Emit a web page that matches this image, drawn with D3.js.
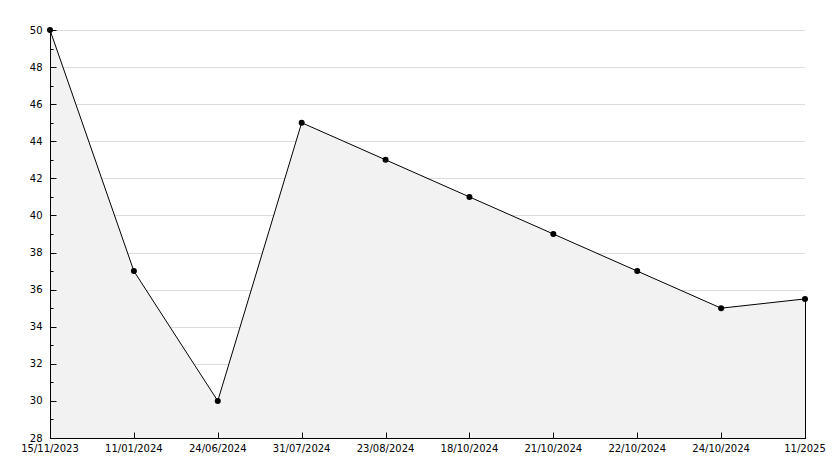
<!DOCTYPE html>
<html><head><meta charset="utf-8">
<script src="https://cdn.jsdelivr.net/npm/d3@7"></script>
<style>body{margin:0;background:#fff}svg{display:block}text{font-family:"DejaVu Sans",sans-serif;font-size:10px;fill:#000}</style>
</head><body>
<script>
const categories = ["15/11/2023","11/01/2024","24/06/2024","31/07/2024","23/08/2024","18/10/2024","21/10/2024","22/10/2024","24/10/2024","11/2025"];
const values = [50,37,30,45,43,41,39,37,35,35.5];
const yMajorTicks = [28,30,32,34,36,38,40,42,44,46,48,50];
const yMinorTicks = [29,31,33,35,37,39,41,43,45,47,49];

const W=834,H=468, L=50,R=805,T=30,B=438;
const svg=d3.select("body").append("svg").attr("width",W).attr("height",H);
const x=d3.scalePoint().domain(categories).range([L,R]);
const y=d3.scaleLinear().domain([28,50]).range([B,T]);

// grid
svg.append("g").selectAll("line").data(yMajorTicks.filter(d=>d>28)).join("line")
 .attr("x1",L).attr("x2",R).attr("y1",d=>Math.round(y(d))+0.5).attr("y2",d=>Math.round(y(d))+0.5)
 .attr("stroke","#dcdcdc").attr("stroke-width",1);

const pts=categories.map((c,i)=>({c,v:values[i]}));
// area
svg.append("path").datum(pts)
 .attr("d",d3.area().x(d=>x(d.c)).y0(y(28)).y1(d=>y(d.v)))
 .attr("fill","#f2f2f2");
// right edge
svg.append("line").attr("x1",x(categories[categories.length-1])+0.5).attr("x2",x(categories[categories.length-1])+0.5)
 .attr("y1",y(values[values.length-1])).attr("y2",B).attr("stroke","#000");
// line
svg.append("path").datum(pts)
 .attr("d",d3.line().x(d=>x(d.c)).y(d=>y(d.v)))
 .attr("fill","none").attr("stroke","#000").attr("stroke-width",1);
// markers
svg.append("g").selectAll("circle").data(pts).join("circle")
 .attr("cx",d=>x(d.c)).attr("cy",d=>y(d.v)).attr("r",3).attr("fill","#000");

// y axis
const ya=svg.append("g").attr("transform",`translate(${L+0.5},0)`);
ya.append("line").attr("y1",T).attr("y2",B+0.5).attr("stroke","#000");
ya.selectAll("line.maj").data(yMajorTicks).join("line").attr("class","maj")
 .attr("x1",0).attr("x2",6).attr("y1",d=>Math.round(y(d))+0.5).attr("y2",d=>Math.round(y(d))+0.5).attr("stroke","#000");
ya.selectAll("line.min").data(yMinorTicks).join("line").attr("class","min")
 .attr("x1",0).attr("x2",3).attr("y1",d=>Math.round(y(d))+0.5).attr("y2",d=>Math.round(y(d))+0.5).attr("stroke","#000");
ya.selectAll("text").data(yMajorTicks).join("text")
 .attr("x",-8).attr("y",d=>y(d)).attr("dy","0.35em").attr("text-anchor","end").text(d=>d);

// x axis
const xa=svg.append("g").attr("transform",`translate(0,${B+0.5})`);
xa.append("line").attr("x1",L).attr("x2",R+1).attr("stroke","#000");
xa.selectAll("line.t").data(categories).join("line").attr("class","t")
 .attr("x1",d=>Math.round(x(d))+0.5).attr("x2",d=>Math.round(x(d))+0.5).attr("y1",0).attr("y2",-6).attr("stroke","#000");
xa.selectAll("text").data(categories).join("text")
 .attr("x",d=>x(d)).attr("y",13).attr("text-anchor","middle").text(d=>d);
</script>
</body></html>
